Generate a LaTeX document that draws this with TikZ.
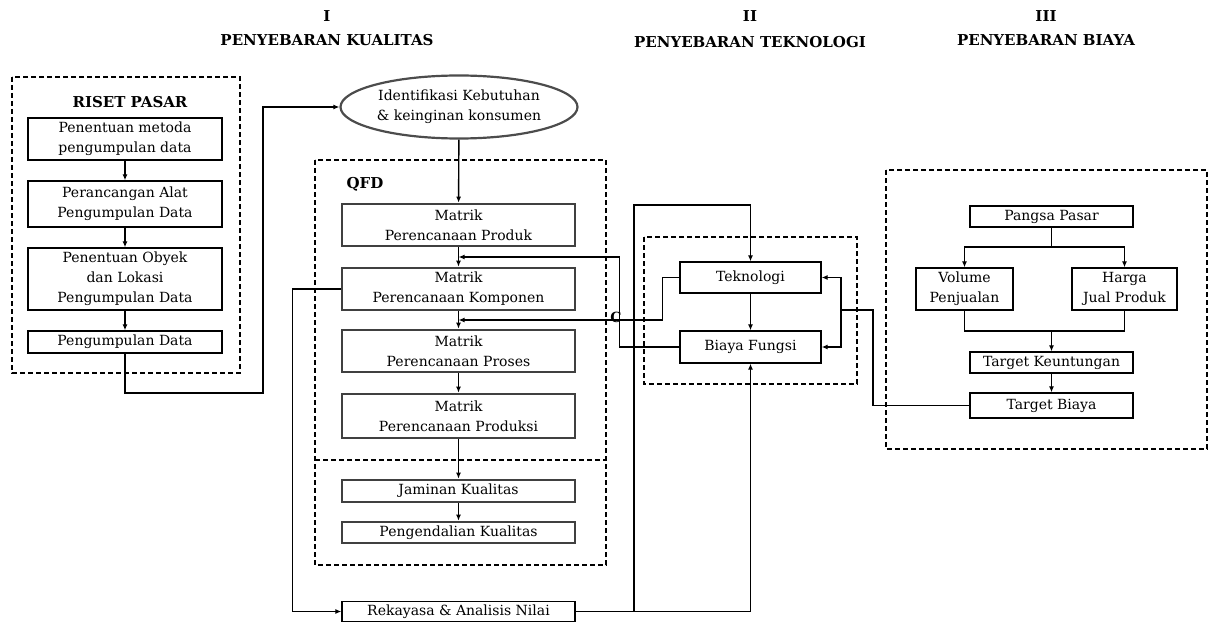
\documentclass[tikz,border=0pt]{standalone}
\usepackage{fontspec}
\setmainfont{DejaVu Serif}
\usetikzlibrary{arrows.meta,calc,shapes.geometric}

\begin{document}
\begin{tikzpicture}[x=1pt,y=-1pt,>={Latex[length=6pt,width=5pt]},
  font=\fontsize{14}{20}\selectfont,
  box/.style={draw,line width=1.3pt,align=center,inner sep=0pt},
  qbox/.style={draw=black!75,line width=2.6pt,align=center,inner sep=0pt,minimum width=233pt},
  frame/.style={line width=1.2pt,dash pattern=on 5pt off 3pt},
  link/.style={line width=1.4pt},
  head/.style={font=\fontsize{15}{18}\selectfont\bfseries}]
\useasboundingbox (0,0) rectangle (1210,623);
\node[head] (n1) at (327,16) {I};
\node[head] (h1) at (327,40) {PENYEBARAN KUALITAS};
\node[head] (n2) at (750,16) {II};
\node[head] (h2) at (750,42) {PENYEBARAN TEKNOLOGI};
\node[head] (n3) at (1046,16) {III};
\node[head] (h3) at (1046,40) {PENYEBARAN BIAYA};
\draw[frame] (12,77) rectangle (240,373);
\node[head] (riset) at (130,102) {RISET PASAR};
\node[box,minimum width=194pt,minimum height=42pt] (m1) at (125,139) {Penentuan metoda\\pengumpulan data};
\node[box,minimum width=194pt,minimum height=46pt] (m2) at (125,204) {Perancangan Alat\\Pengumpulan Data};
\node[box,minimum width=194pt,minimum height=62pt] (m3) at (125,279) {Penentuan Obyek\\dan Lokasi\\Pengumpulan Data};
\node[box,minimum width=194pt,minimum height=22pt] (m4) at (125,342) {Pengumpulan Data};
\draw[link,->] (m1) -- (m2);
\draw[link,->] (m2) -- (m3);
\draw[link,->] (m3) -- (m4);
\node[ellipse,draw=black!70,line width=2.2pt,align=center,inner sep=0pt,minimum width=237pt,minimum height=63pt] (ide) at (459,107) {Identifikasi Kebutuhan\\\& keinginan konsumen};
\coordinate (j1) at (263,393);
\draw[link,->] (m4) |- (j1) |- (ide);
\draw[frame] (315,160) rectangle (606,565);
\draw[frame] (315,460) -- (606,460);
\node[head] (qfd) at (365,184) {QFD};
\node[qbox,minimum height=42pt] (q1) at (458.5,225) {Matrik\\Perencanaan Produk};
\node[qbox,minimum height=42pt] (q2) at (458.5,289) {Matrik\\Perencanaan Komponen};
\node[qbox,minimum height=42pt] (q3) at (458.5,351) {Matrik\\Perencanaan Proses};
\node[qbox,minimum height=44pt] (q4) at (458.5,416) {Matrik\\Perencanaan Produksi};
\node[qbox,minimum height=22pt] (q5) at (458.5,491) {Jaminan Kualitas};
\node[qbox,minimum height=21pt] (q6) at (458.5,532.5) {Pengendalian Kualitas};
\node[box,minimum width=233pt,minimum height=20pt] (rek) at (458.5,611.5) {Rekayasa \& Analisis Nilai};
\draw[link,->] (ide) -- (q1);
\draw[link,->] (q1) -- (q2);
\draw[link,->] (q2) -- (q3);
\draw[link,->] (q3) -- (q4);
\draw[link,->] (q4) -- (q5);
\draw[link,->] (q5) -- (q6);
\coordinate (c12) at ($(q1.south)!0.5!(q2.north)$);
\coordinate (c23) at ($(q2.south)!0.5!(q3.north)$);
\draw[link,->] (q2.west) -- ++(-48,0) |- (rek.west);
\draw[frame] (644,237) rectangle (857,384);
\node[box,minimum width=141pt,minimum height=31pt] (tek) at (750.5,277.5) {Teknologi};
\node[box,minimum width=141pt,minimum height=32pt] (bf) at (750.5,347) {Biaya Fungsi};
\draw[link,->] (tek) -- (bf);
\coordinate (up1) at (634,205);
\draw[link,->] (rek.east) -| (bf.south);
\draw[link,->] (rek.east) -| (up1) -| (tek.north);
\draw[link,->] (tek.west) -- ++(-17,0) |- (c23);
\draw[link,->] (bf.west) -- ++(-60,0) |- (c12);
\node[font=\fontsize{14}{16}\selectfont\bfseries,inner sep=0pt] (cc) at (616,317) {C};
\draw[frame] (886,170) rectangle (1207,449);
\node[box,minimum width=163pt,minimum height=21pt] (pp) at (1051.5,216.5) {Pangsa Pasar};
\node[box,minimum width=97pt,minimum height=42pt] (vp) at (964.5,289) {Volume\\Penjualan};
\node[box,minimum width=105pt,minimum height=42pt] (hj) at (1124.5,289) {Harga\\Jual Produk};
\node[box,minimum width=163pt,minimum height=21pt] (tk) at (1051.5,362.5) {Target Keuntungan};
\node[box,minimum width=163pt,minimum height=25pt] (tb) at (1051.5,405.5) {Target Biaya};
\coordinate (sp) at (1051.5,247);
\coordinate (jn) at (1051.5,331);
\draw[link] (pp.south) -- (sp);
\draw[link,->] (sp) -| (vp.north);
\draw[link,->] (sp) -| (hj.north);
\draw[link] (vp.south) |- (jn) -| (hj.south);
\draw[link,->] (jn) -- (tk.north);
\draw[link,->] (tk) -- (tb);
\coordinate (jr) at (841,310);
\draw[link] (tb.west) -| (873,310) -- (jr);
\draw[link,->] (jr) |- (tek.east);
\draw[link,->] (jr) |- (bf.east);
\end{tikzpicture}
\end{document}
